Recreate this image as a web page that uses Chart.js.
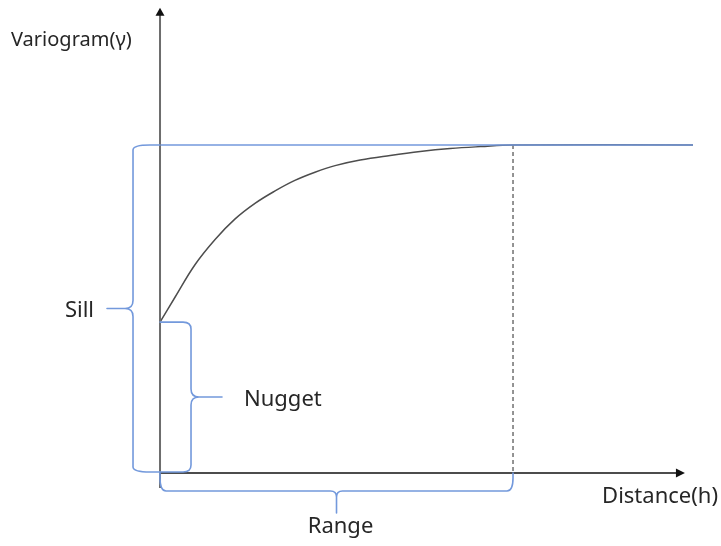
<!DOCTYPE html>
<html>
<head>
<meta charset="utf-8">
<script src="https://cdn.jsdelivr.net/npm/chart.js@4.4.1/dist/chart.umd.min.js"></script>
<style>
    html, body { margin: 0; padding: 0; background: #fff; }
    #wrap { width: 721px; height: 546px; }
</style>
</head>
<body>
<div id="wrap"><canvas id="vario" width="721" height="546"></canvas></div>
<script>
// values (distance in % of range, gamma in 1/10 of sill)
const distance = [0, 4.2, 9.9, 15.6, 21.2, 26.9, 32.6, 38.2, 43.9, 49.6, 56.7, 65.2, 73.7, 82.2, 90.7, 100, 151];
const gamma = [4.6, 5.35, 6.35, 7.12, 7.74, 8.22, 8.6, 8.92, 9.17, 9.37, 9.54, 9.68, 9.8, 9.89, 9.95, 10, 10];

const nugget = 4.6;
const sill = 10;
const range = 100;

const xLimits = [-45.33, 158.92];
const yLimits = [-2.226, 14.42];
const xAxisEnd = 148.7;
const yAxisTop = 14.18;
const yAxisBottom = -0.46;

const labelVariogram = "Variogram(γ)";
const labelDistance = "Distance(h)";
const labelSill = "Sill";
const labelNugget = "Nugget";
const labelRange = "Range";

const blue = "#7399dc";
const textColor = "#262626";
const font = '22px "Noto Sans"';
const titleFont = '20px "Noto Sans"';

/* global Chart */

const curvePoints = distance.map((d, i) => ({ x: d, y: gamma[i] }));

function brace(ctx, a, b, n, back, tip, c, r, s)
{
    const len = Math.hypot(b.x - a.x, b.y - a.y);
    const u = { x: (b.x - a.x) / len, y: (b.y - a.y) / len };
    const m = { x: (a.x + b.x) / 2, y: (a.y + b.y) / 2 };
    const p = (base, along, across) =>
        [base.x + u.x * along + n.x * across, base.y + u.y * along + n.y * across];

    ctx.beginPath();
    ctx.moveTo(...p(a, 0, 0));
    ctx.lineTo(...p(a, 0, back - c));
    ctx.quadraticCurveTo(...p(a, 0, back), ...p(a, r, back));
    ctx.lineTo(...p(m, -s, back));
    ctx.quadraticCurveTo(...p(m, 0, back), ...p(m, 0, back + s));
    ctx.lineTo(...p(m, 0, tip));
    ctx.moveTo(...p(m, 0, back + s));
    ctx.quadraticCurveTo(...p(m, 0, back), ...p(m, s, back));
    ctx.lineTo(...p(b, -r, back));
    ctx.quadraticCurveTo(...p(b, 0, back), ...p(b, 0, back - c));
    ctx.lineTo(...p(b, 0, 0));
    ctx.stroke();
}

const sketchPlugin = {
    id: "sketch",
    afterDatasetsDraw(chart)
    {
        const ctx = chart.ctx;
        const xs = chart.scales.x;
        const ys = chart.scales.y;
        const px = v => xs.getPixelForValue(v);
        const py = v => ys.getPixelForValue(v);

        ctx.save();

        // y axis
        ctx.strokeStyle = "#6d6d6d";
        ctx.lineWidth = 2;
        ctx.beginPath();
        ctx.moveTo(px(0), py(yAxisBottom));
        ctx.lineTo(px(0), py(yAxisTop) + 6);
        ctx.stroke();
        ctx.fillStyle = "#111";
        ctx.beginPath();
        ctx.moveTo(px(0), py(yAxisTop));
        ctx.lineTo(px(0) - 4.5, py(yAxisTop) + 8);
        ctx.lineTo(px(0) + 4.5, py(yAxisTop) + 8);
        ctx.closePath();
        ctx.fill();

        // x axis
        ctx.strokeStyle = "#111";
        ctx.lineWidth = 1.5;
        ctx.beginPath();
        ctx.moveTo(px(0), py(0));
        ctx.lineTo(px(xAxisEnd) - 6, py(0));
        ctx.stroke();
        ctx.beginPath();
        ctx.moveTo(px(xAxisEnd), py(0));
        ctx.lineTo(px(xAxisEnd) - 9, py(0) - 4.5);
        ctx.lineTo(px(xAxisEnd) - 9, py(0) + 4.5);
        ctx.closePath();
        ctx.fill();

        // braces
        ctx.strokeStyle = blue;
        ctx.lineWidth = 1.6;
        ctx.lineJoin = "round";
        ctx.lineCap = "round";
        brace(ctx, { x: px(0), y: py(sill) }, { x: px(0), y: py(0) - 1 },
            { x: -1, y: 0 }, 27, 53, 17, 5, 8);
        brace(ctx, { x: px(0), y: py(nugget) }, { x: px(0), y: py(0) - 1 },
            { x: 1, y: 0 }, 31, 62, 8, 7, 8);
        brace(ctx, { x: px(0), y: py(0) }, { x: px(range), y: py(0) },
            { x: 0, y: 1 }, 18, 40, 13, 6, 6);

        // labels
        ctx.fillStyle = textColor;
        ctx.textBaseline = "middle";
        ctx.textAlign = "left";
        ctx.font = titleFont;
        ctx.fillText(labelVariogram, 11, 40);
        ctx.font = font;
        ctx.fillText(labelNugget, px(0) + 84, (py(nugget) + py(0)) / 2 + 2);
        ctx.textAlign = "right";
        ctx.fillText(labelSill, px(0) - 66, (py(sill) + py(0)) / 2 + 2);
        ctx.fillText(labelDistance, 718, py(0) + 24);
        ctx.textAlign = "center";
        ctx.fillText(labelRange, px(range / 2) + 4, py(0) + 54);

        ctx.restore();
    }
};

const chart = new Chart(
    document.getElementById("vario"),
    {
        type: "scatter",
        data: {
            datasets: [
                {
                    label: "sill",
                    data: [{ x: 0, y: sill }, { x: distance[distance.length - 1], y: sill }],
                    showLine: true,
                    borderColor: blue,
                    borderWidth: 1.6,
                    pointRadius: 0,
                    order: 1
                },
                {
                    label: "variogram",
                    data: curvePoints,
                    showLine: true,
                    borderColor: "#4d4d4d",
                    borderWidth: 1.5,
                    pointRadius: 0,
                    tension: 0.4,
                    order: 2
                },
                {
                    label: "range",
                    data: [{ x: range, y: sill }, { x: range, y: 0 }],
                    showLine: true,
                    borderColor: "#707070",
                    borderWidth: 1.5,
                    borderDash: [4, 3],
                    pointRadius: 0,
                    order: 3
                }
            ]
        },
        options: {
            responsive: false,
            animation: false,
            layout: { padding: 0 },
            plugins: {
                legend: { display: false },
                tooltip: { enabled: false }
            },
            scales: {
                x: { type: "linear", min: xLimits[0], max: xLimits[1], display: false },
                y: { type: "linear", min: yLimits[0], max: yLimits[1], display: false }
            }
        },
        plugins: [sketchPlugin]
    }
);
</script>
</body>
</html>
